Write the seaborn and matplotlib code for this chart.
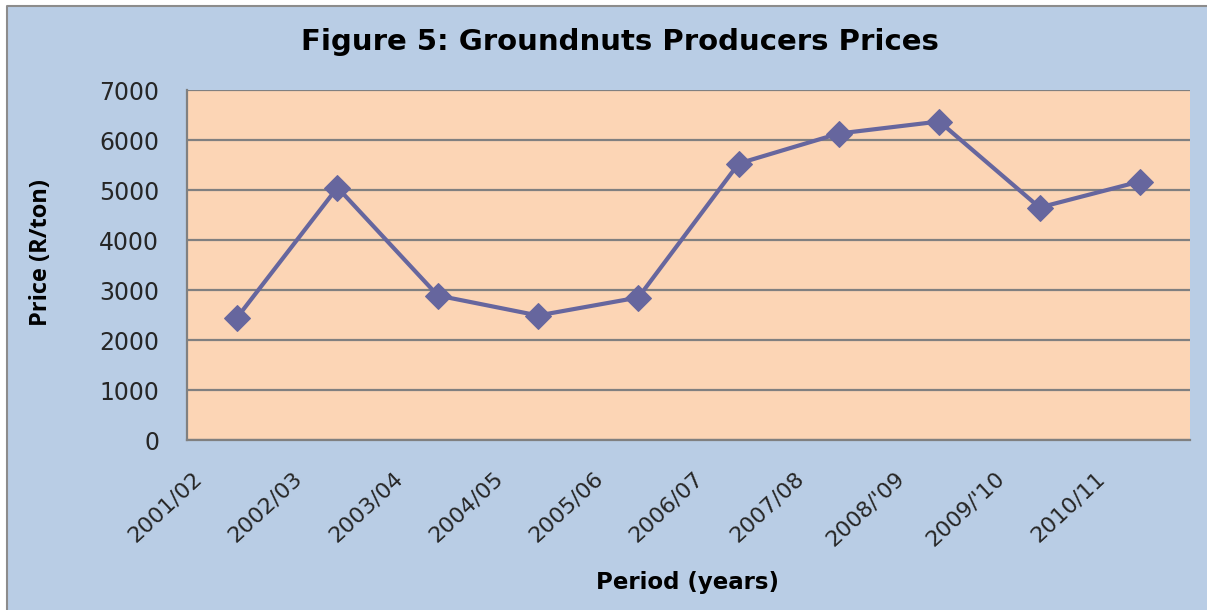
import matplotlib
matplotlib.use("Agg")
import matplotlib.pyplot as plt
import matplotlib.patches as mpatches
import matplotlib.transforms as mtransforms
from matplotlib.lines import Line2D
import numpy as np
import pandas as pd
import seaborn as sns

periods = ['2001/02', '2002/03', '2003/04', '2004/05', '2005/06',
           '2006/07', '2007/08', "2008/'09", "2009/'10", '2010/11']
prices = [2450, 5050, 2890, 2490, 2850, 5530, 6130, 6370, 4650, 5170]
y_ticks = [0, 1000, 2000, 3000, 4000, 5000, 6000, 7000]

BLUE_BG = '#B9CDE5'
PLOT_BG = '#FCD5B5'
LINE = '#66669E'
GRID = '#808080'

sns.set_style('white')
plt.rcParams['font.family'] = ['DejaVu Sans']

df = pd.DataFrame({'period': periods, 'price': prices})

fig = plt.figure(figsize=(12.07, 6.10), dpi=100, facecolor='white')
# chart area background, gray border only visible on top and left
x0, y1 = 7 / 1207, 1 - 6 / 610
fig.patches.append(mpatches.Rectangle((x0, 0), 1 - x0, y1, transform=fig.transFigure,
                                      facecolor=BLUE_BG, edgecolor='none', zorder=-10))
fig.lines.append(Line2D([x0, x0, 1], [0, y1, y1], transform=fig.transFigure,
                        color='#8C8C8C', linewidth=1.5, zorder=-9))

ax = fig.add_axes([187 / 1207, 1 - 440 / 610, (1190 - 187) / 1207, 350 / 610])
ax.set_facecolor(PLOT_BG)

sns.lineplot(data=df, x='period', y='price', ax=ax, color=LINE, linewidth=3,
             marker='D', markersize=13, markeredgecolor=LINE, sort=False)

ax.set_xlim(-0.5, len(periods) - 0.5)
ax.set_ylim(0, 7000)
ax.set_yticks(y_ticks)
ax.set_yticklabels([str(v) for v in y_ticks], fontsize=17)
ax.yaxis.grid(True, color=GRID, linewidth=1.6)
ax.set_axisbelow(True)

# category labels at centres, tick marks at boundaries
ax.set_xticks(np.arange(len(periods)))
ax.set_xticklabels(periods, rotation=43, ha='right', rotation_mode='anchor', fontsize=16)
ax.tick_params(axis='x', which='major', length=0, pad=20)
shift = mtransforms.ScaledTranslation(-45 / 100, 0, fig.dpi_scale_trans)
for lab in ax.get_xticklabels():
    lab.set_transform(lab.get_transform() + shift)
ax.set_xticks(np.arange(-0.5, len(periods)), minor=True)
ax.tick_params(axis='x', which='minor', length=7, width=1.6, color=GRID, direction='out')
ax.tick_params(axis='y', length=8, width=1.6, color=GRID, direction='out', pad=12)

for s in ['top', 'right']:
    ax.spines[s].set_visible(False)
for s in ['left', 'bottom']:
    ax.spines[s].set_color(GRID)
    ax.spines[s].set_linewidth(1.6)

ax.set_xlabel('')
ax.set_ylabel('')
fig.text(620 / 1207, 1 - 42 / 610, 'Figure 5: Groundnuts Producers Prices', ha='center', va='center',
         fontsize=21, fontweight='bold', color='black')
fig.text(688 / 1207, 1 - 583 / 610, 'Period (years)', ha='center', va='center',
         fontsize=16.5, fontweight='bold', color='black')
fig.text(41 / 1207, 1 - 253 / 610, 'Price (R/ton)', ha='center', va='center', rotation=90,
         fontsize=17, fontweight='bold', color='black',
         family=['Liberation Sans Narrow', 'Open Sans', 'DejaVu Sans'])

fig.savefig('out.png', dpi=100, facecolor=fig.get_facecolor())
